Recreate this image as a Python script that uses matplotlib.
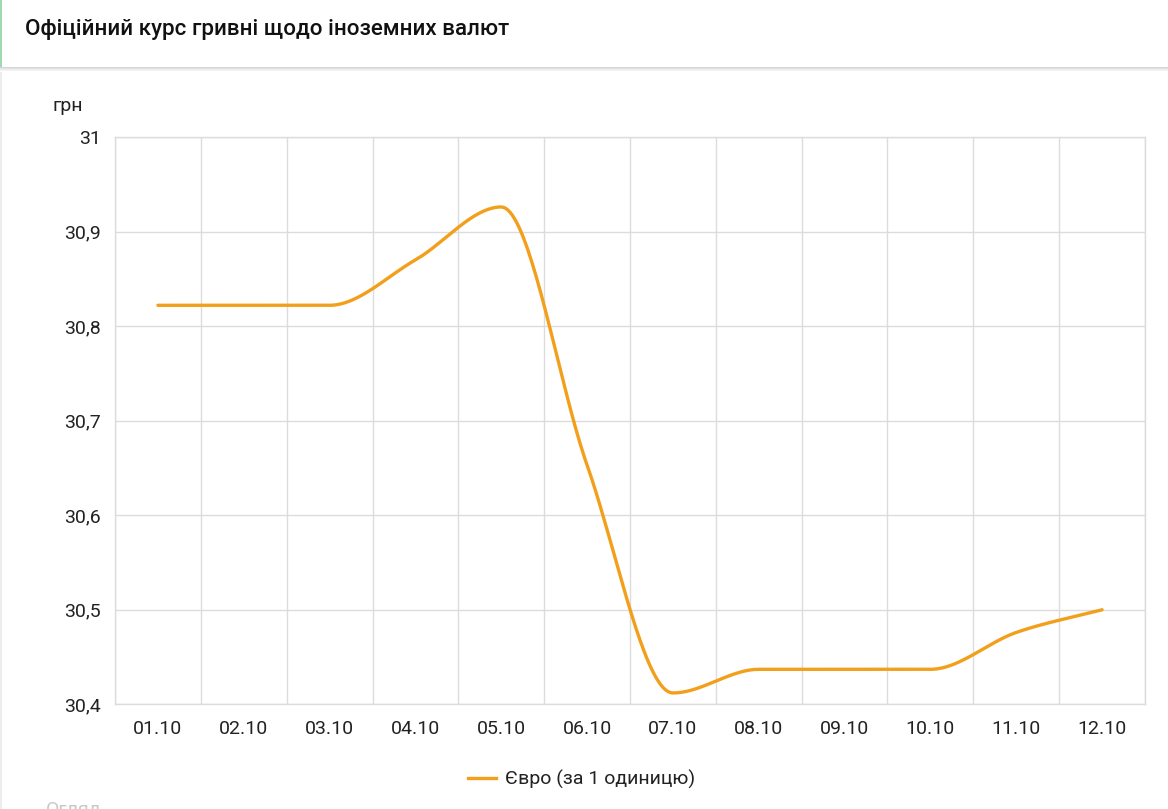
import numpy as np
import matplotlib
matplotlib.use("Agg")
import matplotlib.pyplot as plt
from matplotlib.patches import Rectangle
from matplotlib.lines import Line2D
from matplotlib.ticker import FuncFormatter, MultipleLocator

# data
dates = ["01.10", "02.10", "03.10", "04.10", "05.10", "06.10",
         "07.10", "08.10", "09.10", "10.10", "11.10", "12.10"]
euro = [30.822, 30.822, 30.822, 30.870, 30.926, 30.653,
        30.412, 30.437, 30.437, 30.437, 30.476, 30.500]

title = "Офіційний курс гривні щодо іноземних валют"
series_name = "Євро (за 1 одиницю)"
unit = "грн"

W, H = 1168, 809
LINE = "#F29F1C"
GRID = "#dcdcdc"
TXT = "#222222"
FS = 14.0

plt.rcParams["font.family"] = ["Roboto", "DejaVu Sans"]


def monotone(x, y, n=40):
    """monotone cubic curve (Fritsch-Carlson, like chart.js)"""
    x = np.asarray(x, float)
    y = np.asarray(y, float)
    d = np.diff(y) / np.diff(x)
    m = np.zeros(len(y))
    m[0], m[-1] = d[0], d[-1]
    for i in range(1, len(y) - 1):
        m[i] = 0.0 if d[i - 1] * d[i] <= 0 else (d[i - 1] + d[i]) / 2
    for i in range(len(d)):
        if abs(d[i]) < 1e-9:
            m[i] = m[i + 1] = 0.0
            continue
        a, b = m[i] / d[i], m[i + 1] / d[i]
        s = a * a + b * b
        if s > 9:
            t = 3 / np.sqrt(s)
            m[i], m[i + 1] = a * t * d[i], b * t * d[i]
    xs, ys = [], []
    for i in range(len(d)):
        h = x[i + 1] - x[i]
        t = np.linspace(0, 1, n)
        h00 = 2 * t**3 - 3 * t**2 + 1
        h10 = t**3 - 2 * t**2 + t
        h01 = -2 * t**3 + 3 * t**2
        h11 = t**3 - t**2
        xs.append(x[i] + t * h)
        ys.append(h00 * y[i] + h10 * h * m[i] + h01 * y[i + 1] + h11 * h * m[i + 1])
    return np.concatenate(xs), np.concatenate(ys)


fig = plt.figure(figsize=(W / 100, H / 100), dpi=100)
fig.patch.set_facecolor("white")

# header bar with shadow and green left border
for k, c in enumerate(["#d6d6d6", "#e3e3e3", "#ececec", "#f4f4f4"]):
    fig.add_artist(Rectangle((0, 1 - (68 + k) / H), 1, 1 / H,
                             transform=fig.transFigure, color=c, lw=0))
fig.add_artist(Rectangle((0, 1 - 67 / H), 1.5 / W, 67 / H,
                         transform=fig.transFigure, color="#9fd8b1", lw=0))
fig.add_artist(Rectangle((0, 0), 1.5 / W, 1 - 72 / H,
                         transform=fig.transFigure, color="#ececec", lw=0))
fig.text(25 / W, 1 - 30 / H, title, fontsize=16.1, fontweight="medium",
         color="#111111", va="center", ha="left")

ax = fig.add_axes([115 / W, 1 - 704.3 / H, 1030 / W, 567.3 / H])
x = np.arange(len(dates))
cx, cy = monotone(x, euro)
ax.plot(cx, cy, color=LINE, lw=2.4, solid_capstyle="round", zorder=3)

ax.set_xlim(-0.5, len(dates) - 0.5)
ax.set_ylim(30.4, 31.0)
ax.set_xticks(x)
ax.set_xticklabels(dates)
ax.xaxis.set_minor_locator(MultipleLocator(1, offset=0.5))
ax.yaxis.set_major_locator(MultipleLocator(0.1))
ax.yaxis.set_major_formatter(FuncFormatter(
    lambda v, p: ("%.1f" % v).rstrip("0").rstrip(".").replace(".", ",")))
ax.grid(True, which="minor", axis="x", color=GRID, lw=1)
ax.grid(True, which="major", axis="y", color=GRID, lw=1)
ax.tick_params(which="both", length=0, labelsize=FS, colors=TXT)
ax.tick_params(axis="y", pad=10)
ax.tick_params(axis="x", pad=11)
for s in ax.spines.values():
    s.set_color(GRID)
    s.set_linewidth(1)

fig.text(53 / W, 1 - 106 / H, unit, fontsize=FS, color=TXT,
         ha="left", va="center")

h = Line2D([], [], color=LINE, lw=2.4)
fig.legend([h], [series_name], loc="center", frameon=False,
           bbox_to_anchor=(582 / W, 1 - 779 / H), fontsize=FS,
           handlelength=1.4, handletextpad=0.5, labelcolor=TXT)

# cut-off text at the very bottom
fig.text(46 / W, 1 - 801 / H, "Огляд", fontsize=FS, color="#c8c8c8",
         ha="left", va="top")

fig.savefig("out.png", dpi=100, facecolor="white")
